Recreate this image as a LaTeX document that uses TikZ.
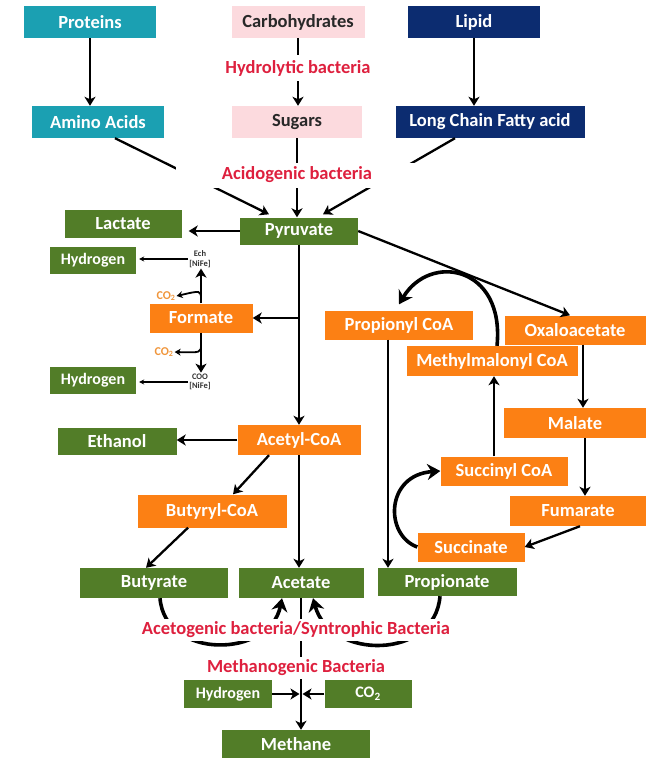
\documentclass[tikz,border=0pt]{standalone}
\usepackage{fontspec}
\setmainfont{Carlito}
\usetikzlibrary{arrows.meta}

\definecolor{protcol}{RGB}{27,160,178}
\definecolor{lipcol}{RGB}{12,44,112}
\definecolor{sugcol}{RGB}{252,218,222}
\definecolor{prodcol}{RGB}{82,125,40}
\definecolor{intcol}{RGB}{252,128,20}
\definecolor{bactcol}{RGB}{222,32,62}
\definecolor{gascol}{RGB}{240,150,60}
\definecolor{inkcol}{RGB}{40,40,40}
\definecolor{enzcol}{RGB}{50,50,50}

\tikzset{
  box/.style={rectangle, inner sep=0pt, text=white,
    font=\bfseries\fontsize{18.5}{20}\selectfont},
  protbox/.style={box, fill=protcol},
  lipbox/.style={box, fill=lipcol},
  sugbox/.style={box, fill=sugcol, text=inkcol},
  prodbox/.style={box, fill=prodcol},
  intbox/.style={box, fill=intcol},
  smallprod/.style={prodbox, font=\bfseries\fontsize{16}{18}\selectfont},
  bact/.style={fill=white, inner sep=0pt, text=bactcol,
    font=\bfseries\fontsize{18.5}{20}\selectfont},
  enzyme/.style={align=center, inner sep=1pt, text=enzcol,
    font=\bfseries\fontsize{8.5}{9.5}\selectfont},
  gas/.style={inner sep=1pt, text=gascol, font=\bfseries\fontsize{12}{13}\selectfont},
  arr/.style={draw=black, line width=2.3pt, -{Stealth[length=9pt,width=11pt,inset=2.5pt]}},
  thin/.style={draw=black, line width=1.1pt, -{Stealth[length=5pt,width=5pt]}},
  loop/.style={draw=black, line width=3.6pt, -{Stealth[length=13pt,width=16pt]}},
}

\begin{document}
\begin{tikzpicture}[x=1pt,y=-1pt]
\useasboundingbox (0,0) rectangle (652,758);

% polymers and hydrolysis products
\node[protbox, minimum width=132, minimum height=32] (prot)  at (90,22)  {Proteins};
\node[sugbox,  minimum width=133, minimum height=32] (carb)  at (298,22) {Carbohydrates};
\node[lipbox,  minimum width=132, minimum height=32] (lipid) at (474,22) {Lipid};
\node[protbox, minimum width=132, minimum height=32] (amino) at (98,122) {Amino Acids};
\node[sugbox,  minimum width=130, minimum height=32] (sugar) at (297,122) {Sugars};
\node[lipbox,  minimum width=189, minimum height=32] (lcfa)  at (490,122) {Long Chain Fatty acid};

% acidogenesis products
\node[prodbox, minimum width=118, minimum height=27] (pyr)   at (299,231) {Pyruvate};
\node[prodbox, minimum width=117, minimum height=28] (lact)  at (123,224) {Lactate};
\node[smallprod, minimum width=86, minimum height=27] (h2a)  at (93,260)  {Hydrogen};
\node[enzyme] (ech) at (200,259) {Ech\\{[NiFe]}};
\node[intbox,  minimum width=103, minimum height=29] (form)  at (201,318) {Formate};
\node[gas] (co2a) at (166,296) {CO\textsubscript{2}};
\node[gas] (co2b) at (164,352) {CO\textsubscript{2}};
\node[enzyme] (coo) at (200,382) {COO\\{[NiFe]}};
\node[smallprod, minimum width=86, minimum height=27] (h2b)  at (93,380)  {Hydrogen};

\node[intbox,  minimum width=123, minimum height=30] (acetyl)  at (299,440) {Acetyl-CoA};
\node[prodbox, minimum width=119, minimum height=27] (ethanol) at (117,441) {Ethanol};
\node[intbox,  minimum width=149, minimum height=33] (butyryl) at (212,511) {Butyryl-CoA};
\node[prodbox, minimum width=148, minimum height=30] (butyrate)   at (154,583) {Butyrate};
\node[prodbox, minimum width=125, minimum height=30] (acetate)    at (301,583) {Acetate};
\node[prodbox, minimum width=139, minimum height=28] (propionate) at (447,582) {Propionate};

% propionate pathway
\node[intbox, minimum width=148, minimum height=29] (propionyl) at (399,325) {Propionyl CoA};
\node[intbox, minimum width=141, minimum height=29] (oxalo)     at (575,330) {Oxaloacetate};
\node[intbox, minimum width=171, minimum height=30] (methyl)    at (492,361) {Methylmalonyl CoA};
\node[intbox, minimum width=142, minimum height=30] (malate)    at (575,423) {Malate};
\node[intbox, minimum width=127, minimum height=29] (succinyl)  at (504,471) {Succinyl CoA};
\node[intbox, minimum width=136, minimum height=30] (fumarate)  at (578,511) {Fumarate};
\node[intbox, minimum width=107, minimum height=29] (succinate) at (471,547) {Succinate};

% methanogenesis
\node[smallprod, minimum width=88, minimum height=28] (h2c)  at (228,694) {Hydrogen};
\node[smallprod, minimum width=87, minimum height=28] (co2c) at (368,694) {CO\textsubscript{2}};
\node[prodbox, minimum width=148, minimum height=28] (methane) at (296,744) {Methane};

% hydrolysis
\draw[arr] (prot.south) -- (prot.south |- amino.north);
\draw[arr] (carb.south) -- (carb.south |- sugar.north);
\draw[arr] (lipid.south) -- (lipid.south |- lcfa.north);

% acidogenesis
\draw[arr] ([xshift=17pt]amino.south) -- ([xshift=-30pt,yshift=3pt]pyr.north);
\draw[arr] (sugar.south) -- (sugar.south |- pyr.north);
\draw[arr] ([xshift=-35pt]lcfa.south) -- ([xshift=24pt,yshift=3pt]pyr.north);

\draw[arr, shorten >=7pt] (pyr.west) -- (pyr.west -| lact.east);
\draw[thin, shorten >=3pt] (ech.west) -- (ech.west -| h2a.east);
\draw[thin, shorten >=3pt] (coo.west) -- (coo.west -| h2b.east);
\draw[arr] (form.north) -- (form.north |- ech.south);
\draw[arr] (form.south) -- (form.south |- coo.north);
\draw[draw=black, line width=1.8pt, -{Stealth[length=6pt,width=7pt]}]
  ([yshift=4pt]form.north) .. controls ([yshift=13pt]form.north) .. (co2a.east);
\draw[draw=black, line width=1.8pt, -{Stealth[length=6pt,width=7pt]}]
  ([yshift=-12pt]form.south) .. controls ([yshift=-20pt]form.south) .. (co2b.east);

\draw[arr] (pyr.south) -- (pyr.south |- acetyl.north);
\draw[arr] (pyr.south |- form.east) -- (form.east);
\draw[arr] (pyr.east) -- ([xshift=-5pt]oxalo.north);

\draw[arr] (acetyl.west) -- (acetyl.west -| ethanol.east);
\draw[arr] ([xshift=-30pt]acetyl.south) -- ([xshift=21pt]butyryl.north);
\draw[arr] ([xshift=-24pt]butyryl.south) -- ([xshift=-8pt]butyrate.north);
\draw[arr] (acetyl.south) -- (acetyl.south |- acetate.north);

% propionate pathway
\draw[arr] ([xshift=8pt]oxalo.south) -- ([xshift=8pt]oxalo.south |- malate.north);
\draw[arr] ([xshift=10pt]malate.south) -- ([xshift=10pt]malate.south |- fumarate.north);
\draw[arr] ([xshift=2pt]fumarate.south) -- (succinate.east);
\draw[loop] (succinate.west) .. controls +(-33,-12) and +(-55,4) .. (succinyl.west);
\draw[arr] ([xshift=-10pt]succinyl.north) -- ([xshift=-10pt]succinyl.north |- methyl.south);
\draw[loop] ([xshift=5pt]methyl.north) .. controls +(8,-80) and +(31,-52) .. ([yshift=6pt]propionyl.north);
\draw[arr] ([xshift=-11pt]propionyl.south) -- ([xshift=-11pt]propionyl.south |- propionate.north);

% acetogenesis
\draw[loop] ([xshift=6pt]butyrate.south) .. controls +(5,62) and +(-12,60) .. ([xshift=-19pt]acetate.south);
\draw[loop] ([xshift=-7pt]propionate.south) .. controls +(-5,64) and +(17,62) .. ([xshift=12pt]acetate.south);

% methanogenesis
\draw[arr] (acetate.south) -- (acetate.south |- methane.north);
\draw[arr, shorten >=1.5pt] (h2c.east) -- (acetate.south |- h2c.east);
\draw[arr, shorten >=1.5pt] (co2c.west) -- (acetate.south |- co2c.west);

% bacterial groups, set over the connectors
\node[bact, minimum width=160, minimum height=26] (hydro) at (298,68)  {Hydrolytic bacteria};
\node[bact, minimum width=242, minimum height=25] (acido) at (297,175) {Acidogenic bacteria};
\node[bact, minimum width=330, minimum height=22] (aceto) at (296,630) {Acetogenic bacteria/Syntrophic Bacteria};
\node[bact, minimum width=200, minimum height=22] (metha) at (296,668) {Methanogenic Bacteria};
\end{tikzpicture}
\end{document}
